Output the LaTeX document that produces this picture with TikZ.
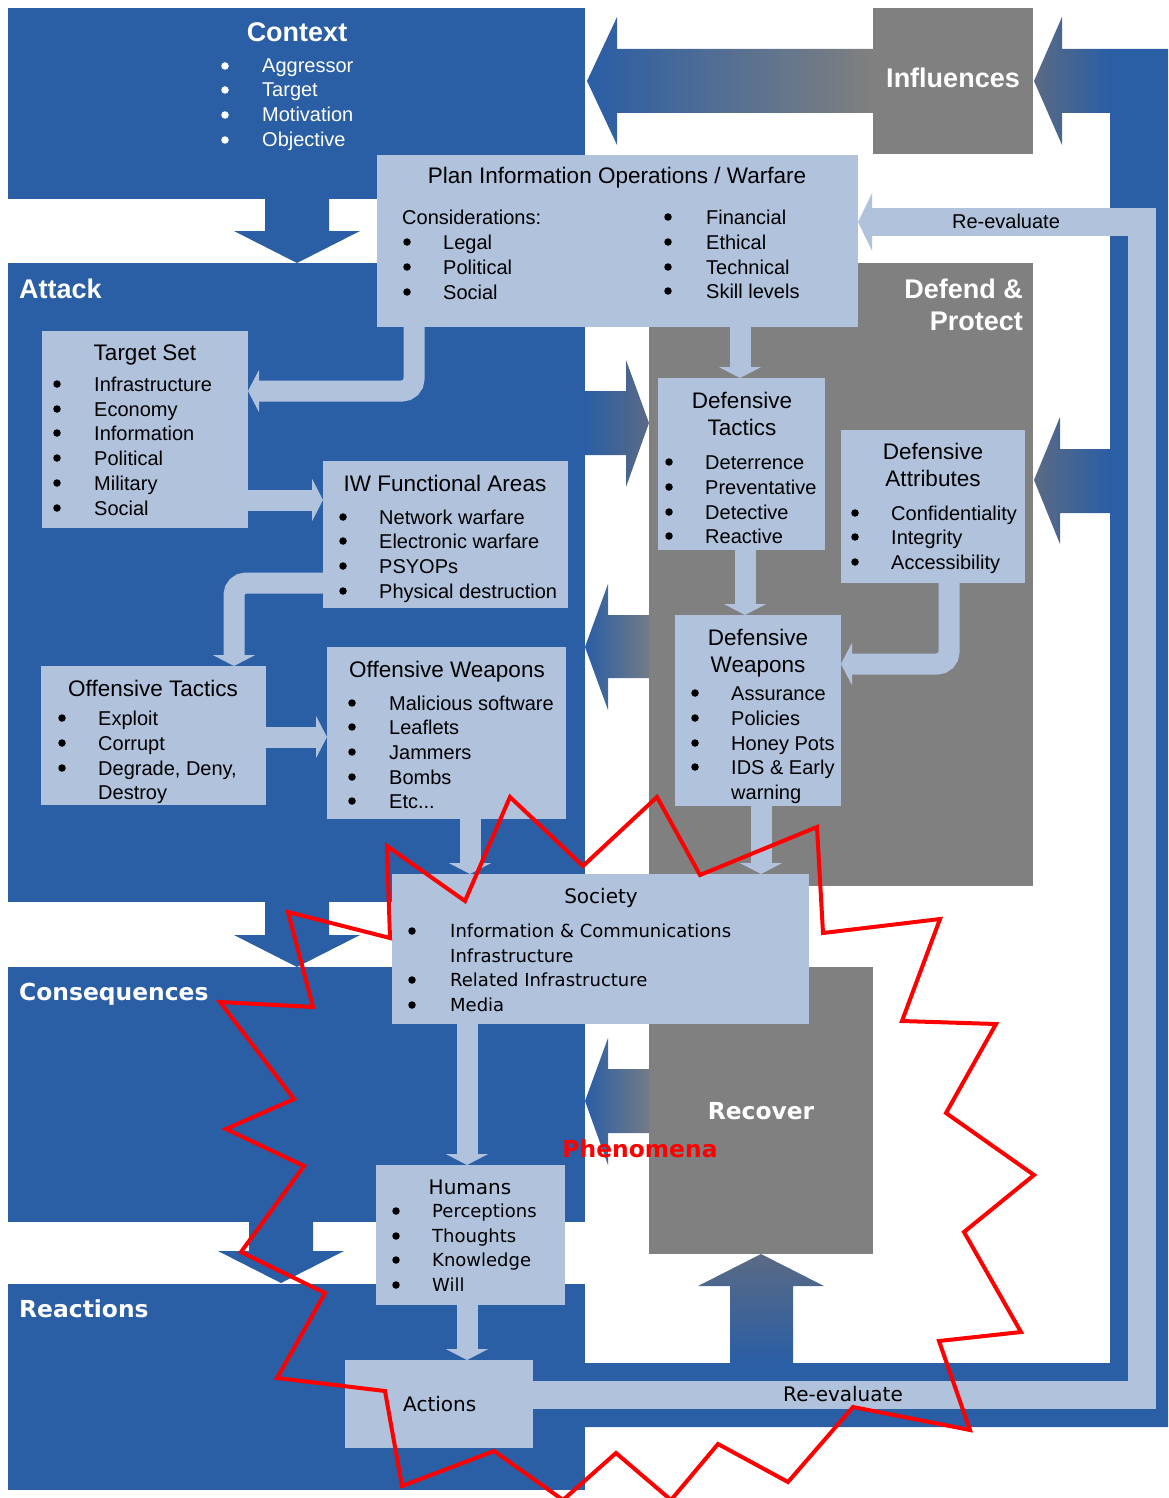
\documentclass[tikz,border=0pt]{standalone}
\usepackage{fontspec}
\setmainfont{Liberation Sans}
\newfontfamily\verdfont{DejaVu Sans}
\usetikzlibrary{arrows.meta}

\definecolor{panelblue}{RGB}{42,94,165}
\definecolor{panelgrey}{RGB}{128,128,128}
\definecolor{boxlite}{RGB}{176,194,220}
\definecolor{slate}{RGB}{90,106,132}

\begin{document}
\begin{tikzpicture}[x=1pt,y=-1pt,
    panel/.style={fill=panelblue,inner sep=0pt,outer sep=0pt,anchor=north west},
    gpanel/.style={panel,fill=panelgrey},
    box/.style={panel,fill=boxlite},
    head/.style={anchor=base,inner sep=0pt,text=white,font=\fontsize{27}{32}\selectfont\bfseries},
    vhead/.style={anchor=base,inner sep=0pt,text=white,font=\verdfont\fontsize{23.4}{28}\selectfont\bfseries},
    ttl/.style={anchor=base,inner sep=0pt,font=\fontsize{22.5}{27}\selectfont},
    lbl/.style={anchor=base,inner sep=0pt,font=\fontsize{20}{24}\selectfont},
    itm/.style={anchor=base west,inner sep=0pt,font=\fontsize{20}{24}\selectfont},
    dot/.style={circle,fill=black,inner sep=0pt,minimum size=7.5},
    vttl/.style={anchor=base,inner sep=0pt,font=\verdfont\fontsize{20}{24}\selectfont},
    vitm/.style={anchor=base west,inner sep=0pt,font=\verdfont\fontsize{18}{22}\selectfont},
    conn/.style={boxlite,line width=21pt,-{Triangle[width=42pt,length=11pt]}}]
  \clip (0,0) rectangle (1168,1498);

  % The blue and grey panels
  \node (context) at (8,8) [panel,minimum width=577,minimum height=191] {};
  \node (attack) at (8,263) [panel,minimum width=577,minimum height=639] {};
  \node (conseq) at (8,967) [panel,minimum width=577,minimum height=255] {};
  \node (react) at (8,1284) [panel,minimum width=577,minimum height=206] {};
  \node (influ) at (873,8) [gpanel,minimum width=160,minimum height=146] {};
  \node (defend) at (649,263) [gpanel,minimum width=384,minimum height=623] {};
  \node (recover) at (649,967) [gpanel,minimum width=224,minimum height=287] {};

  % Down arrows between the blue panels
  \foreach \x/\a/\b/\c in {297/199/231/263, 297/902/935/967, 281/1222/1251/1283} {
    \fill [panelblue] (\x-32,\a) -- (\x+32,\a) -- (\x+32,\b) -- (\x+63,\b)
      -- (\x,\c) -- (\x-63,\b) -- (\x-32,\b) -- cycle;
  }

  % The feedback frame round the right side
  \fill [panelblue] (585,1363) -- (1110,1363) -- (1110,49) -- (1168,49)
    -- (1168,1427) -- (585,1427) -- cycle;

  % Shaded block arrows
  \shade [left color=panelblue,right color=panelgrey] (873,49) -- (617,49) -- (617,17)
    -- (587,81) -- (617,145) -- (617,113) -- (873,113) -- cycle;
  \shade [left color=slate,right color=panelblue] (1110,49) -- (1062,49) -- (1062,17)
    -- (1034,81) -- (1062,145) -- (1062,113) -- (1110,113) -- cycle;
  \shade [left color=panelblue,right color=slate] (585,391) -- (626,391) -- (626,360)
    -- (649,423) -- (626,487) -- (626,455) -- (585,455) -- cycle;
  \shade [left color=panelblue,right color=panelgrey!85!panelblue] (649,615) -- (608,615)
    -- (608,584) -- (585,647) -- (608,710) -- (608,678) -- (649,678) -- cycle;
  \shade [left color=slate,right color=panelblue] (1110,449) -- (1060,449) -- (1060,417)
    -- (1034,480) -- (1060,544) -- (1060,513) -- (1110,513) -- cycle;
  \shade [left color=panelblue,right color=panelgrey!85!panelblue] (649,1069) -- (608,1069)
    -- (608,1038) -- (585,1101) -- (608,1165) -- (608,1133) -- (649,1133) -- cycle;
  \shade [top color=slate,bottom color=panelblue] (730,1363) -- (730,1286) -- (698,1286)
    -- (761,1254) -- (824,1286) -- (793,1286) -- (793,1363) -- cycle;

  % Light boxes
  \node (plan) at (377,155) [box,minimum width=481,minimum height=172] {};
  \node (tset) at (42,331) [box,minimum width=206,minimum height=197] {};
  \node (iwfa) at (323,461) [box,minimum width=245,minimum height=147] {};
  \node (otac) at (41,666) [box,minimum width=225,minimum height=139] {};
  \node (owpn) at (327,647) [box,minimum width=239,minimum height=172] {};
  \node (dtac) at (658,378) [box,minimum width=167,minimum height=172] {};
  \node (datt) at (841,430) [box,minimum width=184,minimum height=153] {};
  \node (dwpn) at (675,615) [box,minimum width=166,minimum height=191] {};
  \node (soc) at (392,874) [box,minimum width=417,minimum height=150] {};
  \node (hum) at (376,1165) [box,minimum width=189,minimum height=140] {};
  \node (act) at (345,1360) [box,minimum width=188,minimum height=88] {};

  % Light connectors
  \draw [conn,rounded corners=12] (plan.south -| 414,0) -- (414,391) -- (tset.east |- 0,391);
  \draw [conn] (tset.east |- 0,500) -- (iwfa.west |- 0,500);
  \draw [conn,rounded corners=12] (iwfa.west |- 0,583) -- (234,583) -- (otac.north -| 234,0);
  \draw [conn] (otac.east |- 0,737) -- (owpn.west |- 0,737);
  \draw [conn] (owpn.south -| 470,0) -- (soc.north -| 470,0);
  \draw [conn] (plan.south -| 740,0) -- (dtac.north -| 740,0);
  \draw [conn] (dtac.south -| 745,0) -- (dwpn.north -| 745,0);
  \draw [conn,rounded corners=12] (datt.south -| 949,0) -- (949,664) -- (dwpn.east |- 0,664);
  \draw [conn] (dwpn.south -| 761,0) -- (soc.north -| 761,0);
  \draw [conn] (soc.south -| 467,0) -- (hum.north -| 467,0);
  \draw [conn] (hum.south -| 467,0) -- (act.north -| 467,0);
  \draw [conn,line width=28pt,-{Triangle[width=57pt,length=14pt]}] (act.east |- 0,1395)
    -- (1142,1395) -- (1142,222) -- (plan.east |- 0,222);

  % Panel headings
  \node (context-t) at (297,42) [head] {Context};
  \node (attack-t) at (19,298) [head,anchor=base west] {Attack};
  \node (influ-t) at (953,88) [head] {Influences};
  \node (defend-t) at (1023,298) [head,anchor=base east] {Defend \&};
  \node (protect-t) at (1023,330) [head,anchor=base east] {Protect};
  \node (conseq-t) at (19,1000) [vhead,anchor=base west] {Consequences};
  \node (react-t) at (19,1317) [vhead,anchor=base west] {Reactions};
  \node (recover-t) at (761,1119) [vhead] {Recover};

  % Context list
  \foreach \y/\lab [count=\i] in {66/Aggressor,90/Target,115/Motivation,140/Objective} {
    \node (ctx-b\i) at (225,\y) [dot,fill=white] {};
    \node (ctx-t\i) at (262,\y+7) [itm,text=white] {\lab};
  }

  % Plan box
  \node (plan-t) at (617,184) [ttl] {Plan Information Operations / Warfare};
  \node (plan-c) at (402,224) [itm] {Considerations:};
  \foreach \y/\lab [count=\i] in {242/Legal,267/Political,292/Social} {
    \node (pl-b\i) at (407,\y) [dot] {};
    \node (pl-t\i) at (443,\y+7) [itm] {\lab};
  }
  \foreach \y/\lab [count=\i] in {217/Financial,242/Ethical,267/Technical,291/Skill levels} {
    \node (pr-b\i) at (668,\y) [dot] {};
    \node (pr-t\i) at (706,\y+7) [itm] {\lab};
  }

  % Target set
  \node (tset-t) at (145,360) [ttl] {Target Set};
  \foreach \y/\lab [count=\i] in {384/Infrastructure,409/Economy,433/Information,
      458/Political,483/Military,508/Social} {
    \node (ts-b\i) at (57,\y) [dot] {};
    \node (ts-t\i) at (94,\y+7) [itm] {\lab};
  }

  % IW functional areas
  \node (iwfa-t) at (445,491) [ttl] {IW Functional Areas};
  \foreach \y/\lab [count=\i] in {517/Network warfare,541/Electronic warfare,
      566/PSYOPs,591/Physical destruction} {
    \node (iw-b\i) at (343,\y) [dot] {};
    \node (iw-t\i) at (379,\y+7) [itm] {\lab};
  }

  % Offensive tactics
  \node (otac-t) at (153,696) [ttl] {Offensive Tactics};
  \foreach \y/\lab [count=\i] in {718/Exploit,743/Corrupt,768/{Degrade, Deny,}} {
    \node (ot-b\i) at (62,\y) [dot] {};
    \node (ot-t\i) at (98,\y+7) [itm] {\lab};
  }
  \node (ot-t4) at (98,799) [itm] {Destroy};

  % Offensive weapons
  \node (owpn-t) at (447,677) [ttl] {Offensive Weapons};
  \foreach \y/\lab [count=\i] in {703/Malicious software,727/Leaflets,752/Jammers,777/Bombs} {
    \node (ow-b\i) at (352,\y) [dot] {};
    \node (ow-t\i) at (389,\y+7) [itm] {\lab};
  }
  \node (ow-b5) at (352,801) [dot] {};
  \node (ow-t5) at (389,808) [itm] {Etc...};

  % Defensive tactics
  \node (dtac-t1) at (742,408) [ttl] {Defensive};
  \node (dtac-t2) at (742,435) [ttl] {Tactics};
  \foreach \y/\lab [count=\i] in {462/Deterrence,487/Preventative,512/Detective,536/Reactive} {
    \node (dt-b\i) at (669,\y) [dot] {};
    \node (dt-t\i) at (705,\y+7) [itm] {\lab};
  }

  % Defensive attributes
  \node (datt-t1) at (933,459) [ttl] {Defensive};
  \node (datt-t2) at (933,486) [ttl] {Attributes};
  \foreach \y/\lab [count=\i] in {513/Confidentiality,537/Integrity,562/Accessibility} {
    \node (da-b\i) at (855,\y) [dot] {};
    \node (da-t\i) at (891,\y+7) [itm] {\lab};
  }

  % Defensive weapons
  \node (dwpn-t1) at (758,645) [ttl] {Defensive};
  \node (dwpn-t2) at (758,672) [ttl] {Weapons};
  \foreach \y/\lab [count=\i] in {693/Assurance,718/Policies,743/Honey Pots,767/IDS \& Early} {
    \node (dw-b\i) at (695,\y) [dot] {};
    \node (dw-t\i) at (731,\y+7) [itm] {\lab};
  }
  \node (dw-t5) at (731,799) [itm] {warning};

  % Society
  \node (soc-t) at (601,903) [vttl] {Society};
  \foreach \y/\lab [count=\i] in {931/Information \& Communications,980/Related Infrastructure,
      1005/Media} {
    \node (so-b\i) at (412,\y) [dot] {};
    \node (so-t\i) at (450,\y+6.5) [vitm] {\lab};
  }
  \node (so-t4) at (450,962.5) [vitm] {Infrastructure};

  % Humans and actions
  \node (hum-t) at (470,1194) [vttl] {Humans};
  \foreach \y/\lab [count=\i] in {1211/Perceptions,1236/Thoughts,1260/Knowledge,1285/Will} {
    \node (hu-b\i) at (396,\y) [dot] {};
    \node (hu-t\i) at (432,\y+6.5) [vitm] {\lab};
  }
  \node (act-t) at (403,1411) [vttl,anchor=base west] {Actions};

  % Re-evaluate labels
  \node (reval-t1) at (1006,228) [lbl] {Re-evaluate};
  \node (reval-t2) at (843,1401) [vttl] {Re-evaluate};

  % The phenomena star
  \draw [red,line width=4pt] (510,797) -- (583,866) -- (657,797) -- (700,875) -- (817,827)
    -- (823,933) -- (940,919) -- (902,1021) -- (996,1024) -- (946,1113) -- (1034,1175)
    -- (964,1232) -- (1021,1332) -- (939,1341) -- (970,1430) -- (853,1407) -- (788,1482)
    -- (718,1444) -- (671,1500) -- (616,1453) -- (563,1500) -- (494,1451) -- (402,1486)
    -- (385,1391) -- (277,1378) -- (325,1293) -- (241,1252) -- (304,1166) -- (226,1129)
    -- (294,1099) -- (220,1002) -- (313,1007) -- (288,912) -- (390,938) -- (387,846)
    -- (465,901) -- cycle;
  \node (phen-t) at (640,1157) [vhead,text=red] {Phenomena};
\end{tikzpicture}
\end{document}
